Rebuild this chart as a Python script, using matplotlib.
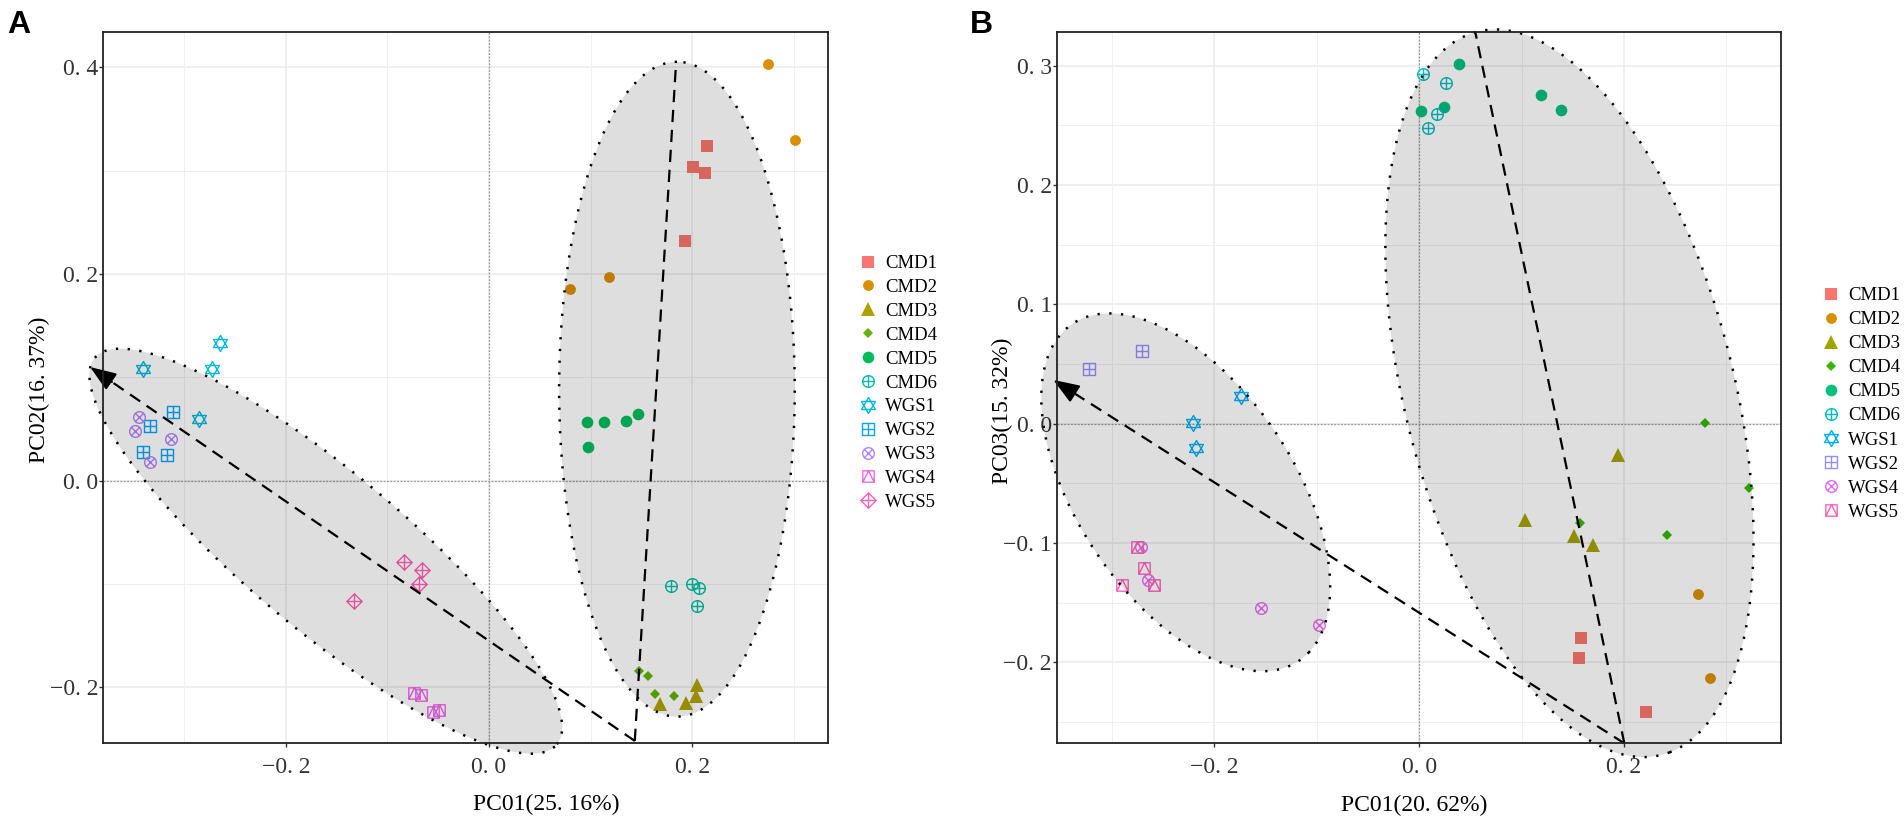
import numpy as np
import matplotlib
matplotlib.use('Agg')
import matplotlib.pyplot as plt
from matplotlib.path import Path
from matplotlib.lines import Line2D

plt.rcParams['font.family'] = ['Liberation Serif', 'DejaVu Serif']

# ---------------- panel A data ----------------
a_groups = ['CMD1', 'CMD2', 'CMD3', 'CMD4', 'CMD5', 'CMD6',
            'WGS1', 'WGS2', 'WGS3', 'WGS4', 'WGS5']
a_colors = ['#F8766D', '#DB8E00', '#AEA200', '#64B200', '#00BD5C', '#00C1A7',
            '#00BADE', '#00A6FF', '#B385FF', '#EF67EB', '#FF63B6']
a_shapes = ['square', 'dot', 'triangle', 'diamond', 'circle', 'circle_plus',
            'star', 'square_plus', 'circle_x', 'square_tri', 'diamond_plus']
a_x = [[0.2148, 0.2010, 0.2125, 0.1931],
       [0.2749, 0.3009, 0.1186, 0.0798],
       [0.2043, 0.2037, 0.1938, 0.1685],
       [0.1478, 0.1567, 0.1635, 0.1820],
       [0.0969, 0.1133, 0.1344, 0.1468, 0.0975],
       [0.1787, 0.1997, 0.2066, 0.2043],
       [-0.2653, -0.3402, -0.2725, -0.2857],
       [-0.3113, -0.3336, -0.3402, -0.3172],
       [-0.3448, -0.3481, -0.3126, -0.3336],
       [-0.0739, -0.0666, -0.0552, -0.0493],
       [-0.0837, -0.0660, -0.0690, -0.1326]]
a_y = [[0.3240, 0.3041, 0.2977, 0.2322],
       [0.4034, 0.3297, 0.1973, 0.1857],
       [-0.1974, -0.2083, -0.2148, -0.2161],
       [-0.1845, -0.1890, -0.2064, -0.2087],
       [0.0565, 0.0565, 0.0575, 0.0642, 0.0323],
       [-0.1017, -0.0998, -0.1037, -0.1218],
       [0.1337, 0.1085, 0.1076, 0.0601],
       [0.0665, 0.0529, 0.0277, 0.0252],
       [0.0616, 0.0481, 0.0407, 0.0180],
       [-0.2058, -0.2078, -0.2242, -0.2216],
       [-0.0789, -0.0869, -0.1002, -0.1163]]
a_xlim = (-0.380, 0.334)
a_ylim = (-0.254, 0.4346)
a_xticks = [-0.2, 0.0, 0.2]
a_xticklabels = ['−0. 2', '0. 0', '0. 2']
a_yticks = [-0.2, 0.0, 0.2, 0.4]
a_yticklabels = ['−0. 2', '0. 0', '0. 2', '0. 4']
a_xminor = [-0.3, -0.1, 0.1, 0.3]
a_yminor = [-0.1, 0.1, 0.3]
a_xlabel = 'PC01(25. 16%)'
a_ylabel = 'PC02(16. 37%)'
# ellipses: centre x, centre y, semi-major, semi-minor, angle (deg)
a_ellipses = [(0.185, 0.0885, 0.317, 0.116, 90.0),
              (-0.1607, -0.0683, 0.2945, 0.0765, -39.4)]
a_vec_origin = (0.1435, -0.252)
a_vec_ends = [(0.1842, 0.4055), (-0.3927, 0.110)]
a_vec_arrow = [False, True]

# ---------------- panel B data ----------------
b_groups = ['CMD1', 'CMD2', 'CMD3', 'CMD4', 'CMD5', 'CMD6',
            'WGS1', 'WGS2', 'WGS4', 'WGS5']
b_colors = ['#F8766D', '#D89000', '#A3A500', '#39B600', '#00BF7D', '#00BFC4',
            '#00B0F6', '#9590FF', '#E76BF3', '#FF62BC']
b_shapes = ['square', 'dot', 'triangle', 'diamond', 'circle', 'circle_plus',
            'star', 'square_plus', 'circle_x', 'square_tri']
b_x = [[0.1583, 0.1560, 0.2218],
       [0.2723, 0.2843],
       [0.1938, 0.1033, 0.1514, 0.1697],
       [0.2794, 0.3217, 0.1573, 0.2420],
       [0.0391, 0.0020, 0.0244, 0.1185, 0.1384],
       [0.0033, 0.0261, 0.0173, 0.0088],
       [-0.1742, -0.2211, -0.2179],
       [-0.3221, -0.2706],
       [-0.2720, -0.2645, -0.1547, -0.0977],
       [-0.2760, -0.2687, -0.2905, -0.2586]]
b_y = [[-0.1801, -0.1967, -0.2415],
       [-0.1429, -0.2132],
       [-0.0264, -0.0808, -0.0944, -0.1019],
       [0.0008, -0.0536, -0.0834, -0.0931],
       [0.3018, 0.2622, 0.2650, 0.2753, 0.2627],
       [0.2929, 0.2851, 0.2594, 0.2474],
       [0.0232, 0.0003, -0.0206],
       [0.0456, 0.0611],
       [-0.1038, -0.1309, -0.1546, -0.1692],
       [-0.1038, -0.1211, -0.1351, -0.1351]]
b_xlim = (-0.354, 0.353)
b_ylim = (-0.268, 0.3285)
b_xticks = [-0.2, 0.0, 0.2]
b_xticklabels = ['−0. 2', '0. 0', '0. 2']
b_yticks = [-0.2, -0.1, 0.0, 0.1, 0.2, 0.3]
b_yticklabels = ['−0. 2', '−0. 1', '0. 0', '0. 1', '0. 2', '0. 3']
b_xminor = [-0.3, -0.1, 0.1, 0.3]
b_yminor = [-0.25, -0.15, -0.05, 0.05, 0.15, 0.25]
b_xlabel = 'PC01(20. 62%)'
b_ylabel = 'PC03(15. 32%)'
b_ellipses = [(0.1467, 0.0254, 0.3165, 0.1586, -72.0),
              (-0.228, -0.0576, 0.1802, 0.0996, -48.3)]
b_vec_origin = (0.2003, -0.268)
b_vec_ends = [(0.0547, 0.3283), (-0.3573, 0.0366)]
b_vec_arrow = [False, True]


# ---------------- marker shapes (R pch look-alikes) ----------------
def poly(pts):
    return Path(pts + [pts[0]], closed=True)


def seg(p, q):
    return Path([p, q])


CIRCLE = Path.unit_circle()
SQUARE = poly([(-1, -1), (1, -1), (1, 1), (-1, 1)])
DIAMOND = poly([(0, 1), (1, 0), (0, -1), (-1, 0)])
PLUS = [seg((0, -1), (0, 1)), seg((-1, 0), (1, 0))]
CROSS = [seg((-0.707, -0.707), (0.707, 0.707)), seg((-0.707, 0.707), (0.707, -0.707))]

MARKERS = {
    'square': dict(marker='s', ms=8.4, filled=True),
    'dot': dict(marker='o', ms=7.8, filled=True),
    'triangle': dict(marker='^', ms=9.5, filled=True),
    'diamond': dict(marker='D', ms=4.8, filled=True),
    'circle': dict(marker='o', ms=8.4, filled=True),
    'circle_plus': dict(marker=Path.make_compound_path(CIRCLE, *PLUS), ms=8.4, filled=False),
    'star': dict(marker=Path.make_compound_path(
        poly([(0, 1), (-0.866, -0.5), (0.866, -0.5)]),
        poly([(0, -1), (-0.866, 0.5), (0.866, 0.5)])), ms=11.5, filled=False),
    'square_plus': dict(marker=Path.make_compound_path(SQUARE, *PLUS), ms=8.2, filled=False),
    'circle_x': dict(marker=Path.make_compound_path(CIRCLE, *CROSS), ms=8.4, filled=False),
    'square_tri': dict(marker=Path.make_compound_path(
        SQUARE, Path([(-1, -1), (0, 1), (1, -1)])), ms=8.2, filled=False),
    'diamond_plus': dict(marker=Path.make_compound_path(DIAMOND, *PLUS), ms=11.0, filled=False),
}


def marker_kw(shape, color):
    m = MARKERS[shape]
    if m['filled']:
        return dict(marker=m['marker'], ms=m['ms'], mfc=color, mec=color, mew=0)
    return dict(marker=m['marker'], ms=m['ms'], mfc='none', mec=color, mew=1.0)


def ellipse_xy(cx, cy, a, b, ang):
    t = np.linspace(0, 2 * np.pi, 400)
    th = np.deg2rad(ang)
    ex = a * np.cos(t)
    ey = b * np.sin(t)
    return (cx + ex * np.cos(th) - ey * np.sin(th),
            cy + ex * np.sin(th) + ey * np.cos(th))


def draw_panel(ax, groups, colors, shapes, xs, ys, xlim, ylim,
               xticks, xticklabels, yticks, yticklabels, xminor, yminor,
               ellipses, origin, ends, arrows):
    ax.set_xlim(*xlim)
    ax.set_ylim(*ylim)

    # grid (theme_bw style)
    for v in xticks:
        ax.axvline(v, color='#EBEBEB', lw=1.1, zorder=0.5)
    for v in yticks:
        ax.axhline(v, color='#EBEBEB', lw=1.1, zorder=0.5)
    for v in xminor:
        ax.axvline(v, color='#EFEFEF', lw=0.7, zorder=0.5)
    for v in yminor:
        ax.axhline(v, color='#EFEFEF', lw=0.7, zorder=0.5)
    ax.axvline(0, color='#9A9A9A', lw=0.9, ls=(0, (1.5, 1.2)), zorder=1)
    ax.axhline(0, color='#9A9A9A', lw=0.9, ls=(0, (1.5, 1.2)), zorder=1)

    for g, c, s, x, y in zip(groups, colors, shapes, xs, ys):
        ax.plot(x, y, ls='none', zorder=2, **marker_kw(s, c))

    for cx, cy, a, b, ang in ellipses:
        ex, ey = ellipse_xy(cx, cy, a, b, ang)
        ax.fill(ex, ey, color='black', alpha=0.13, lw=0, zorder=3, clip_on=False)
        ax.plot(ex, ey, color='black', lw=1.8, ls=(0, (0.9, 3.8)), zorder=4,
                clip_on=False)

    ox, oy = origin
    for (tx, ty), has_head in zip(ends, arrows):
        if has_head:
            mx, my = ox + 0.96 * (tx - ox), oy + 0.96 * (ty - oy)
            ax.plot([ox, mx], [oy, my], color='black', lw=1.6,
                    ls=(0, (5.5, 3.5)), zorder=5, clip_on=False)
            ax.annotate('', xy=(tx, ty), xytext=(mx, my), annotation_clip=False,
                        arrowprops=dict(arrowstyle='-|>,head_length=0.8,head_width=0.3',
                                        mutation_scale=20, color='black', lw=1.5,
                                        shrinkA=0, shrinkB=0), zorder=5)
        else:
            ax.plot([ox, tx], [oy, ty], color='black', lw=1.6,
                    ls=(0, (5.5, 3.5)), zorder=5, clip_on=False)

    ax.set_xticks(xticks)
    ax.set_xticklabels(xticklabels)
    ax.set_yticks(yticks)
    ax.set_yticklabels(yticklabels)
    ax.tick_params(axis='both', length=3, width=1, color='#333333',
                   labelsize=17, labelcolor='#333333')
    ax.tick_params(axis='x', pad=7)
    ax.tick_params(axis='y', pad=0.5)
    for sp in ax.spines.values():
        sp.set_color('#222222')
        sp.set_linewidth(1.3)
        sp.set_zorder(6)


def add_legend(fig, groups, colors, shapes, left_px, top_px, spacing):
    handles = [Line2D([], [], ls='none', **marker_kw(s, c)) for s, c in zip(shapes, colors)]
    fig.legend(handles, groups, loc='upper left',
               bbox_to_anchor=(left_px / 1904, 1 - top_px / 821),
               frameon=False, prop={'size': 13.5}, handlelength=1.0,
               handletextpad=0.4, labelspacing=spacing, borderpad=0,
               borderaxespad=0)


fig = plt.figure(figsize=(19.04, 8.21), dpi=100)
ax_a = fig.add_axes([103 / 1904, 78 / 821, 725.3 / 1904, 711.3 / 821])
ax_b = fig.add_axes([1056.7 / 1904, 77.7 / 821, 724 / 1904, 711.6 / 821])

draw_panel(ax_a, a_groups, a_colors, a_shapes, a_x, a_y, a_xlim, a_ylim,
           a_xticks, a_xticklabels, a_yticks, a_yticklabels, a_xminor, a_yminor,
           a_ellipses, a_vec_origin, a_vec_ends, a_vec_arrow)
draw_panel(ax_b, b_groups, b_colors, b_shapes, b_x, b_y, b_xlim, b_ylim,
           b_xticks, b_xticklabels, b_yticks, b_yticklabels, b_xminor, b_yminor,
           b_ellipses, b_vec_origin, b_vec_ends, b_vec_arrow)

ax_a.set_xlabel(a_xlabel, fontsize=17)
ax_a.set_ylabel(a_ylabel, fontsize=17)
ax_a.xaxis.set_label_coords(0.611, -0.072)
ax_a.yaxis.set_label_coords(-0.073, 0.496)
ax_b.set_xlabel(b_xlabel, fontsize=17)
ax_b.set_ylabel(b_ylabel, fontsize=17)
ax_b.xaxis.set_label_coords(0.4935, -0.072)
ax_b.yaxis.set_label_coords(-0.060, 0.467)

add_legend(fig, a_groups, a_colors, a_shapes, 859, 255, 0.36)
add_legend(fig, b_groups, b_colors, b_shapes, 1821.7, 287, 0.37)

fig.text(7 / 1904, 1 - 10 / 821, 'A', fontsize=23, fontweight='bold',
         family='Liberation Sans', va='top', ha='left')
fig.text(970 / 1904, 1 - 10 / 821, 'B', fontsize=23, fontweight='bold',
         family='Liberation Sans', va='top', ha='left')

fig.savefig('out.png', dpi=100, facecolor='white')
